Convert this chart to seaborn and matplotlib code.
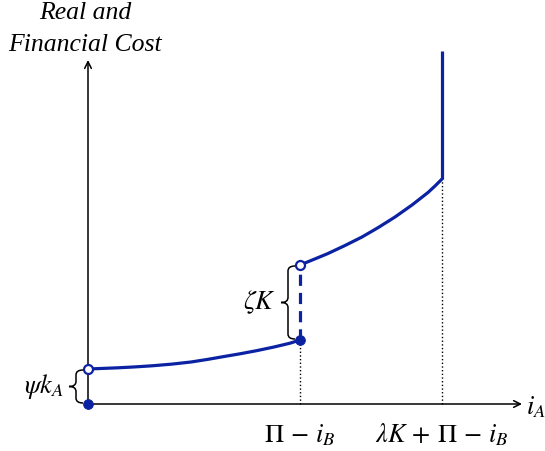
import matplotlib.pyplot as plt
import seaborn as sns
from matplotlib.path import Path
from matplotlib.patches import PathPatch

sns.set_theme(style='white')
plt.rcParams['font.family'] = ['Liberation Serif', 'DejaVu Serif']
plt.rcParams['mathtext.fontset'] = 'stix'
plt.rcParams['text.color'] = 'black'

# values, origin at the corner of the two axes
low_x = [0, 30, 47, 64, 84, 103, 119, 135, 152, 169, 186, 202, 212]
low_y = [35, 36.2, 37.1, 38.2, 39.9, 42, 44.5, 47.3, 50.2, 53.4, 57, 60.8, 64]
high_x = [212, 226, 240, 257, 274, 290, 307, 324, 340, 347, 354]
high_y = [139, 144.7, 150.5, 158.5, 167, 176.3, 187, 199, 211.5, 218, 225]
cap_x = [354, 354]
cap_y = [225, 353]
jump_x = 212     # Pi - i_B
kink_x = 354     # lambda K + Pi - i_B
psi_k = 35       # psi k_A
zeta_lo, zeta_hi = 64, 139

blue = '#0B22A3'

fig = plt.figure(figsize=(5.45, 4.52), dpi=100)
ax = fig.add_axes([0, 0, 1, 1])
ax.set_xlim(-88, 457)
ax.set_ylim(-47, 405)
ax.axis('off')

# axes with arrows
ax.annotate('', xy=(0, 344), xytext=(0, 0),
            arrowprops=dict(arrowstyle='->', color='black', lw=1.1, shrinkA=0, shrinkB=0))
ax.annotate('', xy=(434, 0), xytext=(0, 0),
            arrowprops=dict(arrowstyle='->', color='black', lw=1.1, shrinkA=0, shrinkB=0))

# dotted guides
ax.plot([jump_x, jump_x], [0, zeta_lo], color='black', ls=':', lw=1)
ax.plot([kink_x, kink_x], [0, cap_y[0]], color='black', ls=':', lw=1)

# cost curve
sns.lineplot(x=low_x, y=low_y, color=blue, lw=2.3, ax=ax)
sns.lineplot(x=high_x, y=high_y, color=blue, lw=2.3, ax=ax)
ax.plot(cap_x, cap_y, color=blue, lw=2.3, solid_capstyle='butt')
ax.plot([jump_x, jump_x], [zeta_lo, zeta_hi], color=blue, lw=2.3, ls=(0, (3.5, 2.2)))

# end points
sns.scatterplot(x=[0, jump_x], y=[0, zeta_lo], color=blue, s=50, edgecolor=blue, zorder=5, ax=ax)
sns.scatterplot(x=[0, jump_x], y=[psi_k, zeta_hi], color='white', s=42, edgecolor=blue,
                linewidth=1.6, zorder=5, ax=ax)


def brace(x, y0, y1, w, r=5):
    ym = (y0 + y1) / 2
    h = w / 2
    verts = [(x, y1), (x - h, y1), (x - h, y1 - r),
             (x - h, ym + r), (x - h, ym), (x - w, ym),
             (x - h, ym), (x - h, ym - r),
             (x - h, y0 + r), (x - h, y0), (x, y0)]
    codes = [Path.MOVETO, Path.CURVE3, Path.CURVE3,
             Path.LINETO, Path.CURVE3, Path.CURVE3,
             Path.CURVE3, Path.CURVE3,
             Path.LINETO, Path.CURVE3, Path.CURVE3]
    ax.add_patch(PathPatch(Path(verts, codes), fill=False, lw=1.1, color='black'))


brace(-5, 1, psi_k - 1, 14)
brace(207, zeta_lo + 1, zeta_hi - 1, 14)

fs = 19
ax.text(-44, 18, r'$\psi k_A$', fontsize=fs, ha='center', va='center')
ax.text(172, 103, r'$\zeta K$', fontsize=fs, ha='center', va='center')
ax.text(jump_x, -30, r'$\Pi\,-\,i_B$', fontsize=fs, ha='center', va='center')
ax.text(kink_x, -30, r'$\lambda K\,+\,\Pi\,-\,i_B$', fontsize=fs, ha='center', va='center')
ax.text(438, -2, r'$i_A$', fontsize=fs, ha='left', va='center')
ax.text(-3, 392, 'Real and', fontsize=18.5, style='italic', ha='center', va='center')
ax.text(-3, 360, 'Financial Cost', fontsize=18.5, style='italic', ha='center', va='center')

fig.savefig('out.png', dpi=100)
